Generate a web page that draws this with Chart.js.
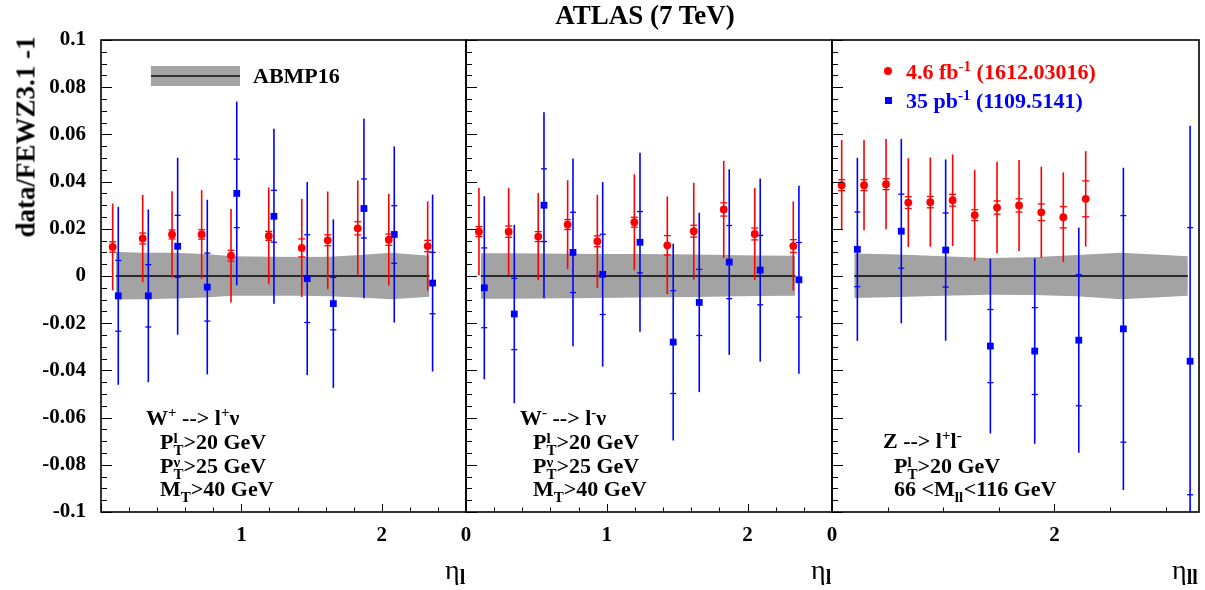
<!DOCTYPE html>
<html><head><meta charset="utf-8">
<script src="https://cdn.jsdelivr.net/npm/chart.js@4.4.0/dist/chart.umd.min.js"></script>
<style>
html,body{margin:0;padding:0;background:#fff;}
body{width:1205px;height:590px;position:relative;overflow:hidden;font-family:'Liberation Serif','Times New Roman',serif;font-weight:bold;color:#000;}
canvas{position:absolute;top:0;}
.t{position:absolute;white-space:pre;line-height:1;font-size:22px;}
.sp{font-size:15px;position:relative;top:-8px;}
.ss{display:inline-block;position:relative;height:0;}
.ss .u,.ss .d{position:absolute;left:0;font-size:15px;line-height:1;}
.ss .u{bottom:2.5px;}
.ss .d{top:-5.5px;}
.box{position:absolute;}
</style>
</head><body>
<canvas id="cA" width="475" height="590" style="left:0px"></canvas>
<canvas id="cB" width="400" height="590" style="left:440px"></canvas>
<canvas id="cC" width="399" height="590" style="left:806px"></canvas>

<div class="t" style="left:445px;width:400px;text-align:center;top:2px;font-size:27px;">ATLAS (7 TeV)</div>
<div class="t" style="left:26px;top:137px;font-size:27px;transform:translate(-50%,-50%) rotate(-90deg);">data/FEWZ3.1 -1</div>

<div class="box" style="left:151px;top:66px;width:89px;height:20px;background:#a3a3a3;"></div>
<div class="box" style="left:151px;top:75px;width:89px;height:2px;background:#333;"></div>
<div class="t" style="left:253px;top:64.6px;">ABMP16</div>

<div class="box" style="left:884px;top:67px;width:8px;height:8px;border-radius:50%;background:#ff0000;"></div>
<div class="t" style="left:906px;top:60.6px;color:#ff0000;">4.6 fb<span class="sp">-1</span> (1612.03016)</div>
<div class="box" style="left:885px;top:97px;width:7px;height:7px;background:#0000ff;"></div>
<div class="t" style="left:906px;top:89.6px;color:#0000ff;">35 pb<span class="sp">-1</span> (1109.5141)</div>

<div class="t" style="left:146px;top:406.6px;">W<span class="sp">+</span> --&gt; l<span class="sp">+</span>ν</div>
<div class="t" style="left:160px;top:430.6px;">P<span class="ss" style="width:10px"><span class="u">l</span><span class="d">T</span></span>&gt;20 GeV</div>
<div class="t" style="left:160px;top:454.6px;">P<span class="ss" style="width:10px"><span class="u">ν</span><span class="d">T</span></span>&gt;25 GeV</div>
<div class="t" style="left:160px;top:477.6px;">M<span class="ss" style="width:10px"><span class="d">T</span></span>&gt;40 GeV</div>

<div class="t" style="left:520px;top:406.6px;">W<span class="sp">-</span> --&gt; l<span class="sp">-</span>ν</div>
<div class="t" style="left:533px;top:430.6px;">P<span class="ss" style="width:10px"><span class="u">l</span><span class="d">T</span></span>&gt;20 GeV</div>
<div class="t" style="left:533px;top:454.6px;">P<span class="ss" style="width:10px"><span class="u">ν</span><span class="d">T</span></span>&gt;25 GeV</div>
<div class="t" style="left:533px;top:477.6px;">M<span class="ss" style="width:10px"><span class="d">T</span></span>&gt;40 GeV</div>

<div class="t" style="left:883px;top:429.6px;">Z --&gt; l<span class="sp">+</span>l<span class="sp">-</span></div>
<div class="t" style="left:894px;top:454.6px;">P<span class="ss" style="width:10px"><span class="u">l</span><span class="d">T</span></span>&gt;20 GeV</div>
<div class="t" style="left:894px;top:477.6px;">66 &lt;M<span class="ss" style="width:9px"><span class="d">ll</span></span>&lt;116 GeV</div>

<div class="t" style="left:445px;top:556px;font-size:28px;font-weight:normal;">η<span style="font-size:20px;font-weight:bold;position:relative;top:5px;">l</span></div>
<div class="t" style="left:811px;top:556px;font-size:28px;font-weight:normal;">η<span style="font-size:20px;font-weight:bold;position:relative;top:5px;">l</span></div>
<div class="t" style="left:1172px;top:556px;font-size:28px;font-weight:normal;">η<span style="font-size:20px;font-weight:bold;position:relative;top:5px;">ll</span></div>

<script>
// ---------- data: W+ -> l+ nu ----------
const wpEtaRed  = [0.083, 0.297, 0.506, 0.717, 0.926, 1.195, 1.430, 1.615, 1.829, 2.050, 2.327];
const wpRed     = [0.0123, 0.0159, 0.0176, 0.0176, 0.0086, 0.0170, 0.0119, 0.0151, 0.0202, 0.0154, 0.0127];
const wpRedTot  = [0.0184, 0.0185, 0.0183, 0.0188, 0.0198, 0.0205, 0.0208, 0.0207, 0.0203, 0.0194, 0.0189];
const wpRedStat = [0.0022, 0.0023, 0.0019, 0.0020, 0.0023, 0.0019, 0.0038, 0.0023, 0.0028, 0.0024, 0.0024];
const wpEtaBlue  = [0.123, 0.337, 0.546, 0.757, 0.967, 1.232, 1.469, 1.655, 1.873, 2.089, 2.362];
const wpBlue     = [-0.0084, -0.0084, 0.0126, -0.0047, 0.0350, 0.0253, -0.0011, -0.0117, 0.0286, 0.0176, -0.0030];
const wpBlueTot  = [0.0377, 0.0366, 0.0375, 0.0370, 0.0389, 0.0371, 0.0409, 0.0357, 0.0380, 0.0373, 0.0375];
const wpBlueStat = [0.0150, 0.0132, 0.0131, 0.0144, 0.0145, 0.0110, 0.0186, 0.0111, 0.0125, 0.0122, 0.0130];
const wpBandEta = [0.105, 0.315, 0.525, 0.735, 0.945, 1.21, 1.445, 1.63, 1.845, 2.065, 2.34];
const wpBandUp  = [0.0102, 0.0099, 0.0098, 0.0093, 0.0084, 0.0082, 0.0081, 0.0082, 0.0089, 0.0098, 0.0086];
const wpBandLo  = [-0.0100, -0.0098, -0.0095, -0.0091, -0.0084, -0.0084, -0.0084, -0.0086, -0.0091, -0.0098, -0.0088];

// ---------- data: W- -> l- nu ----------
const wmEtaRed  = [0.092, 0.303, 0.513, 0.722, 0.933, 1.196, 1.430, 1.618, 1.831, 2.051, 2.325];
const wmRed     = [0.0188, 0.0188, 0.0167, 0.0218, 0.0147, 0.0228, 0.0130, 0.0190, 0.0282, 0.0178, 0.0127];
const wmRedTot  = [0.0185, 0.0185, 0.0185, 0.0188, 0.0197, 0.0203, 0.0207, 0.0205, 0.0206, 0.0195, 0.0189];
const wmRedStat = [0.0021, 0.0024, 0.0021, 0.0021, 0.0023, 0.0021, 0.0041, 0.0025, 0.0028, 0.0025, 0.0027];
const wmEtaBlue  = [0.130, 0.343, 0.554, 0.760, 0.971, 1.236, 1.472, 1.657, 1.870, 2.090, 2.365];
const wmBlue     = [-0.0050, -0.0161, 0.0300, 0.0100, 0.0007, 0.0143, -0.0280, -0.0112, 0.0059, 0.0025, -0.0016];
const wmBlueTot  = [0.0388, 0.0378, 0.0394, 0.0398, 0.0391, 0.0379, 0.0417, 0.0380, 0.0393, 0.0388, 0.0398];
const wmBlueStat = [0.0169, 0.0151, 0.0154, 0.0170, 0.0170, 0.0130, 0.0218, 0.0140, 0.0155, 0.0147, 0.0158];
const wmBandEta = [0.105, 0.315, 0.525, 0.735, 0.945, 1.21, 1.445, 1.63, 1.845, 2.065, 2.34];
const wmBandUp  = [0.0096, 0.0096, 0.0095, 0.0094, 0.0093, 0.0093, 0.0092, 0.0091, 0.0089, 0.0087, 0.0086];
const wmBandLo  = [-0.0096, -0.0096, -0.0095, -0.0094, -0.0093, -0.0091, -0.0090, -0.0089, -0.0087, -0.0085, -0.0084];

// ---------- data: Z -> l+ l- ----------
const zEtaRed  = [0.087, 0.288, 0.486, 0.686, 0.884, 1.085, 1.283, 1.484, 1.682, 1.882, 2.080, 2.281];
const zRed     = [0.0385, 0.0385, 0.0389, 0.0311, 0.0313, 0.0321, 0.0258, 0.0290, 0.0299, 0.0270, 0.0249, 0.0327];
const zRedTot  = [0.0191, 0.0191, 0.0191, 0.0188, 0.0189, 0.0194, 0.0192, 0.0194, 0.0193, 0.0193, 0.0190, 0.0202];
const zRedStat = [0.0023, 0.0023, 0.0023, 0.0025, 0.0024, 0.0025, 0.0023, 0.0028, 0.0028, 0.0035, 0.0045, 0.0076];
const zEtaBlue  = [0.228, 0.623, 1.022, 1.424, 1.823, 2.219, 2.620, 3.220];
const zBlue     = [0.0113, 0.0190, 0.0110, -0.0297, -0.0318, -0.0272, -0.0224, -0.0361];
const zBlueTot  = [0.0388, 0.0391, 0.0384, 0.0370, 0.0393, 0.0477, 0.0683, 0.0998];
const zBlueStat = [0.0158, 0.0157, 0.0157, 0.0155, 0.0184, 0.0278, 0.0480, 0.0566];
const zBandEta = [0.2, 0.6, 1.0, 1.4, 1.8, 2.2, 2.6, 3.2];
const zBandUp  = [0.0095, 0.0091, 0.0084, 0.0076, 0.0079, 0.0089, 0.0098, 0.0084];
const zBandLo  = [-0.0093, -0.0089, -0.0084, -0.0079, -0.0081, -0.0086, -0.0098, -0.0084];

// ---------- axes ----------
const yTickValues = [-0.1, -0.08, -0.06, -0.04, -0.02, 0, 0.02, 0.04, 0.06, 0.08, 0.1];
const yTickLabels = ['-0.1', '-0.08', '-0.06', '-0.04', '-0.02', '0', '0.02', '0.04', '0.06', '0.08', '0.1'];
const wpXLabels = [1, 2];
const wmXLabels = [0, 1, 2];
const zXLabels  = [0, 2];

const RED = '#ff0000', BLUE = '#0000ff', BAND = '#a3a3a3';
const FONT = {family: "'Liberation Serif', 'Times New Roman', serif", size: 21, weight: 'bold'};

const pts = (xs, ys) => xs.map((x, i) => ({x: x, y: ys[i]}));

const panelPlugin = {
  id: 'panel',
  beforeDatasetDraw(chart, args) {
    const ds = chart.data.datasets[args.index];
    if (!ds.errTot) return;
    const {ctx, chartArea: a, scales: {x, y}} = chart;
    ctx.save();
    ctx.beginPath(); ctx.rect(a.left, a.top, a.right - a.left, a.bottom - a.top); ctx.clip();
    ctx.strokeStyle = ds.backgroundColor;
    ds.data.forEach((p, i) => {
      const px = x.getPixelForValue(p.x);
      const t = ds.errTot[i], s = ds.errStat[i];
      ctx.lineWidth = 1.6;
      ctx.beginPath();
      ctx.moveTo(px, y.getPixelForValue(p.y + t));
      ctx.lineTo(px, y.getPixelForValue(p.y - t));
      ctx.stroke();
      ctx.lineWidth = 1.3;
      [p.y + s, p.y - s].forEach(v => {
        const py = y.getPixelForValue(v);
        ctx.beginPath(); ctx.moveTo(px - ds.capHalf, py); ctx.lineTo(px + ds.capHalf, py); ctx.stroke();
      });
    });
    ctx.restore();
  },
  afterDraw(chart) {
    const {ctx, chartArea: a, scales: {x, y}} = chart;
    const o = chart.options.plugins.panel;
    ctx.save();
    ctx.strokeStyle = '#000';
    ctx.lineWidth = 1;
    for (let k = -20; k <= 20; k++) {
      const py = Math.round(y.getPixelForValue(k * 0.005)) + 0.5;
      const len = (k % 4 === 0) ? 11 : 6;
      ctx.beginPath(); ctx.moveTo(a.left, py); ctx.lineTo(a.left + len, py); ctx.stroke();
    }
    for (let k = 0; k <= o.nMinor; k++) {
      const px = Math.round(x.getPixelForValue(k * o.minorStep)) + 0.5;
      const len = (k % o.perMajor === 0) ? 8 : 4.5;
      ctx.beginPath(); ctx.moveTo(px, a.bottom); ctx.lineTo(px, a.bottom - len); ctx.stroke();
    }
    ctx.lineWidth = 1.6;
    ctx.strokeRect(a.left, a.top, a.right - a.left, a.bottom - a.top);
    ctx.restore();
  }
};

function panel(id, d) {
  return new Chart(document.getElementById(id), {
    type: 'scatter',
    data: {
      datasets: [
        {type: 'line', data: pts(d.bandEta, d.bandUp), borderWidth: 0, borderColor: 'rgba(0,0,0,0)',
         pointRadius: 0, fill: '+1', backgroundColor: BAND, order: 10, tension: 0},
        {type: 'line', data: pts(d.bandEta, d.bandLo), borderWidth: 0, borderColor: 'rgba(0,0,0,0)',
         pointRadius: 0, fill: false, order: 9, tension: 0},
        {type: 'line', data: pts([d.bandEta[0], d.bandEta[d.bandEta.length - 1]], [0, 0]),
         borderColor: '#000', borderWidth: 1.5, pointRadius: 0, fill: false, order: 8},
        {data: pts(d.etaBlue, d.blue), pointStyle: 'rect', pointRadius: 4.8, backgroundColor: BLUE,
         borderWidth: 0, order: 2, errTot: d.blueTot, errStat: d.blueStat, capHalf: 3},
        {data: pts(d.etaRed, d.red), pointStyle: 'circle', pointRadius: 3.9, backgroundColor: RED,
         borderWidth: 0, order: 1, errTot: d.redTot, errStat: d.redStat, capHalf: 3.5}
      ]
    },
    options: {
      responsive: false, animation: false, events: [],
      layout: {padding: d.pad},
      plugins: {legend: {display: false}, tooltip: {enabled: false},
                panel: {nMinor: d.nMinor, minorStep: d.minorStep, perMajor: d.perMajor}},
      scales: {
        x: {type: 'linear', min: 0, max: d.xMax,
            afterBuildTicks: s => { s.ticks = d.xLabels.map(v => ({value: v})); },
            afterFit: s => { s.height = 78; },
            grid: {display: false, drawTicks: false}, border: {display: false},
            ticks: {font: FONT, color: '#000', padding: 11, autoSkip: false, maxRotation: 0}},
        y: {type: 'linear', min: -0.1, max: 0.1, display: d.showY,
            afterBuildTicks: s => { s.ticks = yTickValues.map(v => ({value: v})); },
            afterFit: s => { if (d.showY) s.width = 101; },
            grid: {display: false, drawTicks: false}, border: {display: false},
            ticks: {font: FONT, color: '#000', padding: 15, autoSkip: false,
                    callback: (v, i) => yTickLabels[i]}}
      }
    },
    plugins: [panelPlugin]
  });
}

panel('cA', {etaRed: wpEtaRed, red: wpRed, redTot: wpRedTot, redStat: wpRedStat,
             etaBlue: wpEtaBlue, blue: wpBlue, blueTot: wpBlueTot, blueStat: wpBlueStat,
             bandEta: wpBandEta, bandUp: wpBandUp, bandLo: wpBandLo,
             xMax: 2.6, xLabels: wpXLabels, showY: true, nMinor: 13, minorStep: 0.2, perMajor: 5,
             pad: {left: 0, right: 9, top: 40, bottom: 0}});
panel('cB', {etaRed: wmEtaRed, red: wmRed, redTot: wmRedTot, redStat: wmRedStat,
             etaBlue: wmEtaBlue, blue: wmBlue, blueTot: wmBlueTot, blueStat: wmBlueStat,
             bandEta: wmBandEta, bandUp: wmBandUp, bandLo: wmBandLo,
             xMax: 2.6, xLabels: wmXLabels, showY: false, nMinor: 13, minorStep: 0.2, perMajor: 5,
             pad: {left: 26, right: 8, top: 40, bottom: 0}});
panel('cC', {etaRed: zEtaRed, red: zRed, redTot: zRedTot, redStat: zRedStat,
             etaBlue: zEtaBlue, blue: zBlue, blueTot: zBlueTot, blueStat: zBlueStat,
             bandEta: zBandEta, bandUp: zBandUp, bandLo: zBandLo,
             xMax: 3.3, xLabels: zXLabels, showY: false, nMinor: 6, minorStep: 0.5, perMajor: 4,
             pad: {left: 26, right: 6, top: 40, bottom: 0}});
</script>
</body></html>
